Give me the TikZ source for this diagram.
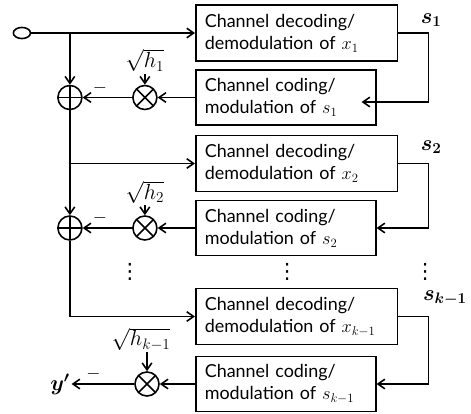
\documentclass[tikz,border=0pt]{standalone}
\usepackage{amsmath,bm}
\usepackage{fontspec}
\setmainfont{Lato}
\newfontfamily\symfont{DejaVu Sans}
\usetikzlibrary{positioning,calc,arrows.meta,shapes.geometric}

\begin{document}
\begin{tikzpicture}[font=\fontsize{17}{21}\selectfont,line width=1.5pt,
 dec/.style={draw,anchor=west,minimum height=1.87cm,text width=6.13cm,inner xsep=0.3cm,align=left},
 cod/.style={draw,anchor=west,minimum height=1.84cm,text width=5.4cm,inner xsep=0.3cm,align=left},
 opc/.style={draw,circle,minimum size=0.8cm,inner sep=0pt},
 adder/.style={opc,path picture={\draw (path picture bounding box.north) -- (path picture bounding box.south) (path picture bounding box.west) -- (path picture bounding box.east);}},
 mixer/.style={opc,path picture={\draw (path picture bounding box.north west) -- (path picture bounding box.south east) (path picture bounding box.north east) -- (path picture bounding box.south west);}},
 msg/.style={-{Straight Barb[length=2.3mm,width=3.2mm]}},
 neg/.style={pos=0.65,above=3pt,inner sep=0pt},
 gain/.style={font=\fontsize{21}{21}\selectfont,inner sep=1pt},
 sig/.style={font=\fontsize{21}{21}\selectfont,inner sep=1pt},
 vd/.style={font=\symfont\fontsize{20}{20}\selectfont,inner sep=0pt}]
\useasboundingbox (0,0) rectangle (15.7,-13.8);
\node[draw,ellipse,minimum width=0.57cm,minimum height=0.37cm,inner sep=0pt] (in) at (0.73,-1.1) {};
\node[dec] (d1) at (6.5,-1.1) {Channel decoding/\\demodulation of $x_1$};
\node[cod] (c1) at (6.5,-3.25) {Channel coding/\\modulation of $s_1$};
\node[dec] (d2) at (6.5,-5.45) {Channel decoding/\\demodulation of $x_2$};
\node[cod] (c2) at (6.5,-7.6) {Channel coding/\\modulation of $s_2$};
\node[dec] (d3) at (6.5,-10.55) {Channel decoding/\\demodulation of $x_{k-1}$};
\node[cod] (c3) at (6.5,-12.8) {Channel coding/\\modulation of $s_{k-1}$};
\node[adder] (a1) at (2.33,-3.25) {};
\node[adder] (a2) at (2.33,-7.6) {};
\node[mixer] (m1) at (4.83,-3.25) {};
\node[mixer] (m2) at (4.83,-7.6) {};
\node[mixer] (m3) at (4.9,-12.8) {};
\node[gain] (g1) at (4.83,-2.02) {$\sqrt{h_1}$};
\node[gain] (g2) at (4.83,-6.4) {$\sqrt{h_2}$};
\node[gain] (g3) at (4.7,-11.3) {$\sqrt{h_{k-1}}$};
\node[sig] (y) at (2.0,-12.8) {$\bm{y'}$};
\node[sig] (s1) at (14.37,-0.67) {$\bm{s_1}$};
\node[sig] (s2) at (14.37,-4.9) {$\bm{s_2}$};
\node[sig] (sk) at (14.83,-9.93) {$\bm{s_{k-1}}$};
\node[vd] (v1) at (4.33,-9.07) {⋮};
\node[vd] (v2) at (9.57,-9.07) {⋮};
\node[vd] (v3) at (14.17,-9.07) {⋮};
\draw[msg] (in.east) -- (d1.west);
\draw[msg] (a1 |- in) -- (a1.north);
\draw[msg] (a1.south) |- (d2.west);
\draw[msg] (a1 |- d2.west) -- (a2.north);
\draw[msg] (a2.south) |- (d3.west);
\draw[msg] (c1.west) -- (m1.east);
\draw[msg] (c2.west) -- (m2.east);
\draw[msg] (c3.west) -- (m3.east);
\draw[msg] (m1.west) -- node[neg]{$-$} (a1.east);
\draw[msg] (m2.west) -- node[neg]{$-$} (a2.east);
\draw[msg] (m3.west) -- node[neg]{$-$} (y.east);
\draw[msg] (g1.south) -- (m1.north);
\draw[msg] (g2.south) -- (m2.north);
\draw[msg] (m3 |- g3.south) -- (m3.north);
\draw[msg] (d1.east) -- ++(1.0,0) |- ($(c1.east)+(-0.5,-0.15)$);
\draw[msg] (d2.east) -- ++(1.0,0) |- (c2.east);
\draw[msg] (d3.east) -- ++(1.0,0) |- (c3.east);
\end{tikzpicture}
\end{document}
